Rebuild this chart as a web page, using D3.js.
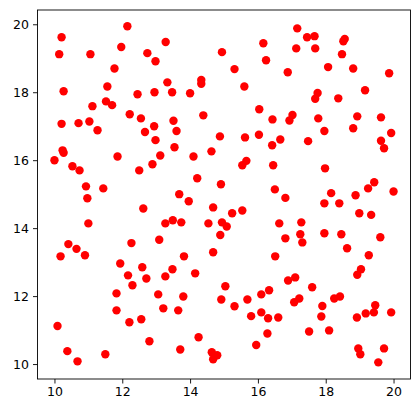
<!DOCTYPE html>
<html><head><meta charset="utf-8">
<script src="https://cdn.jsdelivr.net/npm/d3@7"></script>
<style>body{margin:0;background:#fff}svg{display:block}</style>
</head><body>
<script>
const xValues = [10.21,12.15,10.14,11.06,11.97,13.28,12.74,12.98,11.77,10.27,11.56,12.45,12.95,13.33,11.12,11.52,11.70,12.22,12.55,12.94,10.21,10.71,11.03,11.27,12.67,14.94,16.16,16.24,15.31,16.88,13.47,14.00,14.33,14.33,15.60,13.51,13.60,14.39,16.04,16.43,14.88,15.62,16.03,17.16,17.45,17.67,18.56,18.52,17.13,17.69,18.48,18.07,18.81,19.87,19.16,17.76,17.69,18.37,17.02,16.93,17.78,18.93,19.63,17.96,18.81,19.93,
12.98,10.24,10.27,10.00,11.86,10.53,10.74,12.50,12.89,13.12,10.93,11.44,10.97,12.62,11.00,13.27,10.41,10.65,12.27,13.09,16.66,16.42,13.54,14.10,14.63,15.54,15.66,16.45,14.21,14.91,16.50,16.81,13.68,13.96,14.68,15.24,15.54,13.49,13.74,14.54,14.94,15.08,14.89,16.63,16.81,17.48,19.63,19.72,17.98,18.16,17.96,18.40,18.88,19.25,19.43,20.00,18.99,19.34,17.28,17.25,17.31,17.96,18.46,19.61,18.63,
10.90,10.18,11.94,12.59,12.17,12.71,13.27,12.30,11.83,13.06,11.83,13.21,12.21,12.56,10.09,12.80,10.38,10.68,11.50,13.82,14.68,16.51,13.48,14.15,16.89,15.04,13.80,14.92,15.31,15.69,16.10,16.33,13.65,15.80,16.10,16.30,16.60,16.28,14.25,13.71,15.95,14.64,14.80,14.68,19.27,19.04,18.93,17.10,17.60,17.07,17.22,18.25,18.42,17.90,17.87,18.92,19.18,19.42,19.46,19.93,17.51,18.10,18.96,19.02,19.72,19.55];
const yValues = [19.62,19.94,19.12,19.12,19.33,19.48,19.15,18.91,18.70,18.03,18.17,17.94,18.00,18.29,17.59,17.73,17.62,17.35,17.23,17.00,17.07,17.09,17.14,16.88,16.83,19.18,19.44,18.94,18.68,18.59,18.00,17.97,18.36,18.25,18.17,17.16,16.86,17.32,17.50,17.20,16.70,16.67,16.75,19.88,19.62,19.65,19.57,19.50,19.29,19.29,19.12,18.74,18.70,18.56,18.06,17.98,17.81,17.82,17.33,17.17,17.23,17.29,17.26,16.86,16.94,16.80,
16.59,16.29,16.22,16.00,16.11,15.82,15.70,15.70,15.88,16.14,15.23,15.17,14.88,14.58,14.14,14.14,13.53,13.39,13.56,13.66,16.61,16.44,16.38,16.11,16.26,15.85,15.98,15.85,15.47,15.29,15.14,14.89,15.00,14.79,14.61,14.44,14.52,14.23,14.17,14.14,14.17,14.05,13.80,14.14,13.70,16.56,16.57,16.35,15.76,15.03,14.73,14.73,14.97,15.17,15.35,15.08,14.44,14.39,14.17,13.82,13.58,13.85,13.82,13.73,13.41,
13.20,13.17,12.96,12.85,12.61,12.52,12.58,12.32,12.08,12.05,11.58,11.64,11.23,11.32,11.12,10.67,10.38,10.08,10.29,13.17,13.29,13.17,12.79,12.67,12.46,12.29,11.99,11.90,11.70,11.90,12.05,12.17,11.58,11.41,11.52,11.35,11.37,10.90,10.79,10.43,10.56,10.35,10.26,10.14,13.20,12.79,12.63,12.55,12.26,11.82,11.93,11.93,11.99,11.71,11.40,11.37,11.49,11.52,11.73,11.52,10.96,10.99,10.46,10.29,10.46,10.05];
const xTicks = [10,12,14,16,18,20];
const yTicks = [10,12,14,16,18,20];

const W = 419, H = 413;
const m = {left:37.5, right:410.5, top:10, bottom:379};
const svg = d3.select("body").append("svg").attr("width",W).attr("height",H);
const x = d3.scaleLinear().domain([9.5,20.5]).range([m.left,m.right]);
const y = d3.scaleLinear().domain([9.56,20.42]).range([m.bottom,m.top]);
const font = "DejaVu Sans, sans-serif";

const pts = xValues.map((v,i)=>({x:v,y:yValues[i]}));
svg.append("g").selectAll("circle").data(pts).join("circle")
  .attr("cx",d=>x(d.x)).attr("cy",d=>y(d.y)).attr("r",4.2).attr("fill","#ff0000");

const xa = svg.append("g").attr("transform",`translate(0,${m.bottom})`)
  .call(d3.axisBottom(x).tickValues(xTicks).tickFormat(d3.format("d")).tickSizeOuter(0).tickSize(4.5).tickPadding(4));
const ya = svg.append("g").attr("transform",`translate(${m.left},0)`)
  .call(d3.axisLeft(y).tickValues(yTicks).tickFormat(d3.format("d")).tickSizeOuter(0).tickSize(4.5).tickPadding(4));
[xa,ya].forEach(a=>{a.select(".domain").remove();a.selectAll("line").attr("stroke","#000").attr("stroke-width",0.9);
  a.selectAll("text").attr("font-family",font).attr("font-size",12.5).attr("fill","#000");});

svg.append("rect").attr("x",m.left).attr("y",m.top).attr("width",m.right-m.left).attr("height",m.bottom-m.top)
  .attr("fill","none").attr("stroke","#000").attr("stroke-width",0.9);
</script>
</body></html>
